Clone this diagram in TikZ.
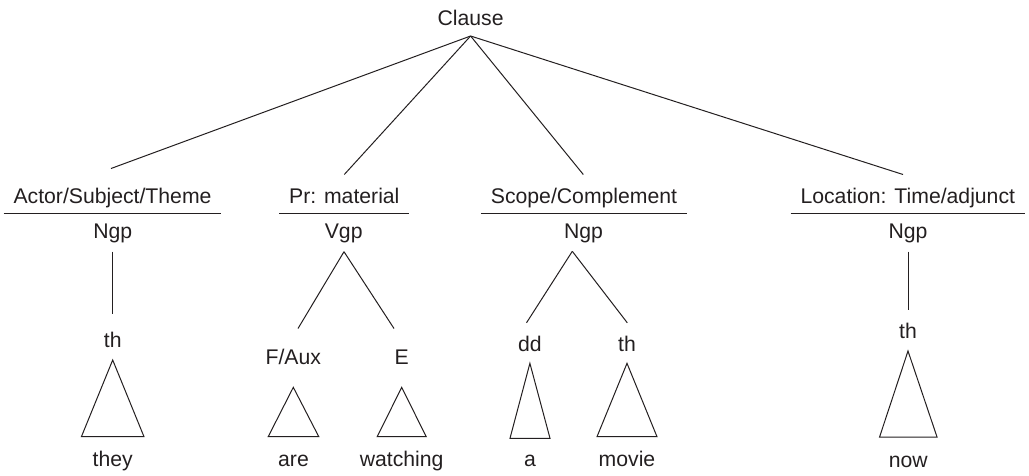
\documentclass[tikz,border=0pt]{standalone}
\usepackage{fontspec}
\setmainfont{Liberation Sans}
\definecolor{ink}{RGB}{35,31,32}
\newcommand\mkroof[4]{% top node, bottom node, apex drop, half width
  \draw ([yshift=-#3pt]#1.base) -- ([xshift=-#4pt,yshift=29.8pt]#2.base)
        -- ([xshift=#4pt,yshift=29.8pt]#2.base) -- cycle;}
\begin{document}
\begin{tikzpicture}[x=1pt,y=-1pt,
  every node/.style={inner sep=0pt,anchor=base,text height=15.2pt,text depth=0pt,text=ink},
  func/.style={inner xsep=9.5pt,text depth=9.2pt},
  every path/.style={draw=ink,line width=1pt},
  font=\fontsize{21.2pt}{25pt}\selectfont]
\useasboundingbox[draw=none] (0,0) rectangle (1029,475);

% root
\node (clause) at (470.6,25.5) {Clause};
\coordinate (top) at ([yshift=-10.5pt]clause.base);

% functions
\node[func] (f1) at (112.5,203.5) {Actor/Subject/Theme};
\node[func] (f2) at (344.3,203.5) {Pr: material};
\node[func] (f3) at (584,203.5) {Scope/Complement};
\node[func] (f4) at (907.8,203.5) {Location: Time/adjunct};
\foreach \f in {f1,f2,f3,f4}{\draw (\f.south west) -- (\f.south east);}

\coordinate (e1) at ([xshift=-1.5pt,yshift=19.3pt]f1.north);
\coordinate (e2) at ([yshift=13.3pt]f2.north);
\coordinate (e3) at ([xshift=-0.7pt,yshift=13.3pt]f3.north);
\coordinate (e4) at ([xshift=-4.8pt,yshift=13.3pt]f4.north);
\foreach \e in {e1,e2,e3,e4}{\draw (top) -- (\e);}

% groups
\node (n1) at (112.7,238) {Ngp};
\node (n2) at (343.7,238) {Vgp};
\node (n3) at (583.5,238) {Ngp};
\node (n4) at (908,238) {Ngp};

% elements
\node (th1) at (112.7,347) {th};
\node (faux) at (293.3,364.3) {F/Aux};
\node (el) at (401.7,364.3) {E};
\node (dd) at (529.9,351) {dd};
\node (th3) at (627,351) {th};
\node (th4) at (908,338.3) {th};

% words
\node (w1) at (112.7,466.5) {they};
\node (w2) at (293.5,466.5) {are};
\node (w3) at (401.7,466.5) {watching};
\node (w4) at (530,466.5) {a};
\node (w5) at (627,466.5) {movie};
\node (w6) at (908.3,467) {now};

% branches
\draw[shorten <=13.7pt,shorten >=17.8pt] (n1.base) -- (th1.north);
\draw[shorten <=13.7pt,shorten >=12.4pt] (n4.base) -- (th4.north);
\coordinate (va) at ([xshift=0.3pt,yshift=-13.7pt]n2.base);
\draw (va) -- ([xshift=4.7pt,yshift=20.1pt]faux.north);
\draw (va) -- ([xshift=-7.7pt,yshift=20.1pt]el.north);
\coordinate (na) at ([xshift=-11.2pt,yshift=-13.3pt]n3.base);
\draw (na) -- ([xshift=-3.4pt,yshift=12.5pt]dd.north);
\draw (na) -- ([xshift=0.3pt,yshift=12.5pt]th3.north);

% roofs
\mkroof{th1}{w1}{13}{31.3}
\mkroof{faux}{w2}{23}{25.3}
\mkroof{el}{w3}{23}{24.5}
\draw ([yshift=-12.3pt]dd.base) -- ([xshift=-20pt,yshift=28.2pt]w4.base)
      -- ([xshift=20pt,yshift=28.2pt]w4.base) -- cycle;
\mkroof{th3}{w5}{12.3}{30}
\mkroof{th4}{w6}{12.7}{28.8}
\end{tikzpicture}
\end{document}
